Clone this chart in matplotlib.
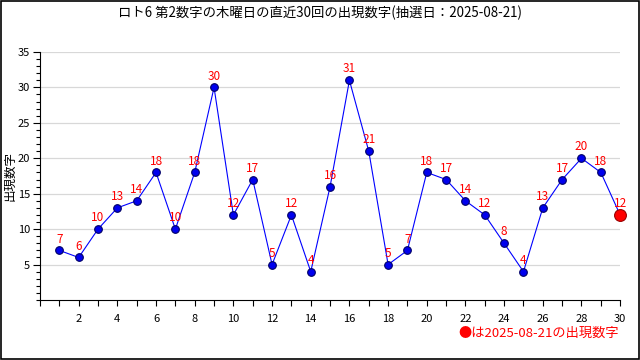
import matplotlib
matplotlib.use("Agg")
from matplotlib import pyplot as plt
from matplotlib.ticker import MultipleLocator

plt.rcParams['font.family'] = ['Noto Sans CJK JP', 'DejaVu Sans']

# データ
kai = list(range(1, 31))
values = [7, 6, 10, 13, 14, 18, 10, 18, 30, 12, 17, 5, 12, 4, 16,
          31, 21, 5, 7, 18, 17, 14, 12, 8, 4, 13, 17, 20, 18, 12]
xticks = list(range(2, 31, 2))
yticks = [5, 10, 15, 20, 25, 30, 35]
title = "ロト6 第2数字の木曜日の直近30回の出現数字(抽選日：2025-08-21)"
ylabel = "出現数字"
note = "●は2025-08-21の出現数字"

fig = plt.figure(figsize=(6.4, 3.6), dpi=100)
ax = fig.add_axes([0.0625, 0.1667, 0.9065, 0.6889])

ax.plot(kai, values, color='#0000ff', lw=0.8, zorder=2)
ax.plot(kai[:-1], values[:-1], 'o', ms=5.5, mfc='#0000ee', mec='#000066', mew=0.8, zorder=3)
ax.plot(kai[-1], values[-1], 'o', ms=8.5, mfc='#ff0000', mec='#990000', mew=0.8, zorder=4, clip_on=False)

for x, v in zip(kai, values):
    ax.annotate(str(v), (x, v), xytext=(0, 3.5), textcoords='offset points',
                ha='center', va='bottom', color='#ff0000', fontsize=8.5)

ax.set_xlim(0, 30)
ax.set_ylim(0, 35)
ax.set_xticks(xticks)
ax.xaxis.set_minor_locator(MultipleLocator(1))
ax.set_yticks(yticks)
ax.yaxis.set_minor_locator(MultipleLocator(1))
ax.tick_params(axis='both', labelsize=8, length=5, width=0.8)
ax.tick_params(axis='both', which='minor', length=3, width=0.8)
ax.tick_params(axis='y', which='major', pad=2)
ax.tick_params(axis='x', which='both', length=4, pad=6)
ax.grid(axis='y', color='#d8d8d8', lw=0.9)
ax.set_axisbelow(True)
for s in ['top', 'right']:
    ax.spines[s].set_visible(False)

fig.text(10 / 640, 0.51, ylabel, rotation=90, ha='center', va='center', fontsize=9)
fig.text(0.5, 0.965, title, ha='center', va='center', fontsize=9.6)
fig.text(0.967, 0.075, note, ha='right', va='center', fontsize=9.5, color='#ff0000')

# 外枠
fig.patches.append(plt.Rectangle((0.001, 0.002), 0.997, 0.995, transform=fig.transFigure,
                                 fill=False, ec='black', lw=1.2))

fig.savefig('out.png', dpi=100)
